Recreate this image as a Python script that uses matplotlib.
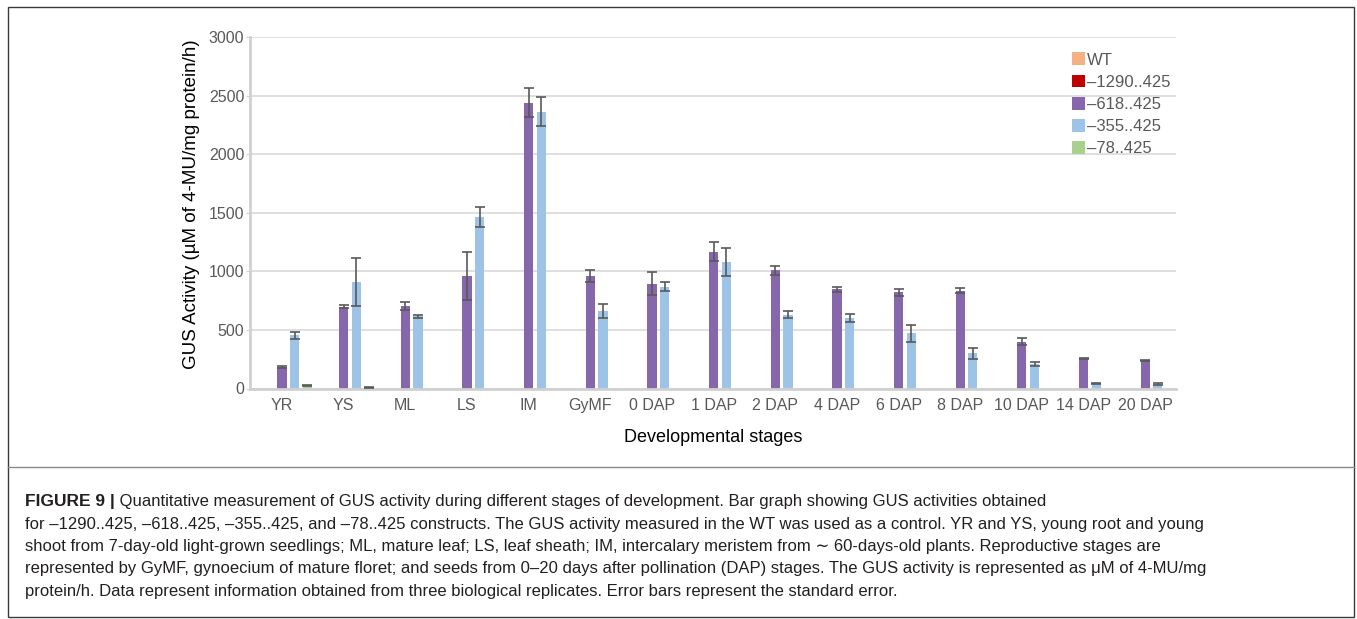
"""GUS activity across developmental stages, grouped bars with error bars"""

import matplotlib
matplotlib.use('Agg')
import matplotlib.pyplot as plt
from matplotlib import font_manager
import numpy as np


def pick_font(names):
    """first installed family out of names"""
    installed = set(f.name for f in font_manager.fontManager.ttflist)
    for name in names:
        if name in installed:
            return name
    return 'DejaVu Sans'


FONT = pick_font(['Liberation Sans Narrow', 'Liberation Sans', 'DejaVu Sans'])
plt.rcParams['font.family'] = [FONT, 'DejaVu Sans']

stages = ['YR', 'YS', 'ML', 'LS', 'IM', 'GyMF', '0 DAP', '1 DAP', '2 DAP',
          '4 DAP', '6 DAP', '8 DAP', '10 DAP', '14 DAP', '20 DAP']

series_names = ['WT', '\u20131290..425', '\u2013618..425', '\u2013355..425',
                '\u201378..425']

wt = [0] * 15
c1290 = [0] * 15
c618 = [181, 699, 705, 960, 2439, 962, 894, 1167, 1008,
        845, 820, 835, 400, 255, 241]
c355 = [455, 905, 615, 1465, 2364, 665, 868, 1079, 631,
        605, 470, 301, 207, 44, 40]
c78 = [25, 12, 0, 0, 0, 0, 0, 0, 0, 0, 0, 0, 0, 0, 0]

err_wt = [0] * 15
err_1290 = [0] * 15
err_618 = [10, 15, 35, 205, 125, 52, 100, 83, 40, 25, 30, 20, 27, 6, 6]
err_355 = [30, 205, 15, 85, 125, 60, 40, 123, 30, 35, 70, 47, 15, 5, 8]
err_78 = [6, 4, 0, 0, 0, 0, 0, 0, 0, 0, 0, 0, 0, 0, 0]

colors = ['#F4B183', '#C00000', '#8767AC', '#9DC3E6', '#A9D18E']

values = [wt, c1290, c618, c355, c78]
errors = [err_wt, err_1290, err_618, err_355, err_78]

W, H = 1357, 619
fig = plt.figure(figsize=(W / 100.0, H / 100.0), dpi=100)
ax = fig.add_axes([250.0 / W, 1 - 388.5 / H, 926.0 / W, 351.5 / H])

x = np.arange(len(stages))
step = 0.205
width = 0.15
for i, (vals, errs) in enumerate(zip(values, errors)):
    pos = x + (i - 2) * step
    ax.bar(pos, vals, width=width, color=colors[i], label=series_names[i],
           zorder=2)
    vals = np.array(vals, dtype=float)
    errs = np.array(errs, dtype=float)
    keep = vals > 0
    if keep.any():
        ax.errorbar(pos[keep], vals[keep], yerr=errs[keep], fmt='none',
                    ecolor='#595959', elinewidth=1.2, capsize=3.5,
                    capthick=1.2, zorder=3)

ax.set_xlim(-0.52, 14.5)
ax.set_ylim(0, 3000)
ax.set_yticks(range(0, 3001, 500))
ax.set_xticks(x)
ax.set_xticklabels(stages)
ax.yaxis.grid(True, color='#d9d9d9', linewidth=1.2, zorder=0)
ax.set_axisbelow(True)

for side in ['top', 'right']:
    ax.spines[side].set_visible(False)
for side in ['left', 'bottom']:
    ax.spines[side].set_color('#d0d0d0')
    ax.spines[side].set_linewidth(2)
ax.tick_params(axis='y', colors='#595959', labelsize=11.5, length=3,
               color='#d0d0d0', pad=1)
ax.tick_params(axis='x', colors='#595959', labelsize=11.5, length=0, pad=7)

ax.set_ylabel('GUS Activity (\u00b5M of 4-MU/mg protein/h)', fontsize=13.5,
              color='black')
ax.yaxis.set_label_coords(-0.054, 0.525)
ax.set_xlabel('Developmental stages', fontsize=13, color='black', labelpad=11)

leg = ax.legend(loc='upper left', bbox_to_anchor=(0.88, 0.975), frameon=False,
                fontsize=12, handlelength=0.8, handleheight=0.8,
                handletextpad=0.1, labelspacing=0.42, borderaxespad=0)
for t in leg.get_texts():
    t.set_color('#595959')

# outer frame and caption box
fig.add_artist(plt.Rectangle((8.0 / W, 1 - 617.0 / H), 1346.0 / W,
                             610.0 / H, transform=fig.transFigure,
                             fill=False, edgecolor='#3a3a3a', linewidth=1))
fig.add_artist(plt.Line2D([8.0 / W, 1354.0 / W], [1 - 467.0 / H] * 2,
                          transform=fig.transFigure, color='#8a8a8a',
                          linewidth=1))

caption = [
    ' Quantitative measurement of GUS activity during different stages of '
    'development. Bar graph showing GUS activities obtained',
    'for \u20131290..425, \u2013618..425, \u2013355..425, and \u201378..425 '
    'constructs. The GUS activity measured in the WT was used as a control. '
    'YR and YS, young root and young',
    'shoot from 7-day-old light-grown seedlings; ML, mature leaf; LS, leaf '
    'sheath; IM, intercalary meristem from \u223c 60-days-old plants. '
    'Reproductive stages are',
    'represented by GyMF, gynoecium of mature floret; and seeds from 0\u201320 '
    'days after pollination (DAP) stages. The GUS activity is represented as '
    '\u03bcM of 4-MU/mg',
    'protein/h. Data represent information obtained from three biological '
    'replicates. Error bars represent the standard error.',
]
baselines = [506, 528.5, 551, 573.5, 596]
cap_x = 25.0 / W
bold = fig.text(cap_x, 1 - baselines[0] / H, 'FIGURE 9 |', fontsize=12.5,
                fontweight='bold', color='#231f20', va='baseline')
fig.canvas.draw()
bb = bold.get_window_extent(renderer=fig.canvas.get_renderer())
fig.text(bb.x1 / W, 1 - baselines[0] / H, caption[0], fontsize=12,
         color='#231f20', va='baseline')
for line, yb in zip(caption[1:], baselines[1:]):
    fig.text(cap_x, 1 - yb / H, line, fontsize=12, color='#231f20',
             va='baseline')

fig.savefig('out.png', dpi=100)
